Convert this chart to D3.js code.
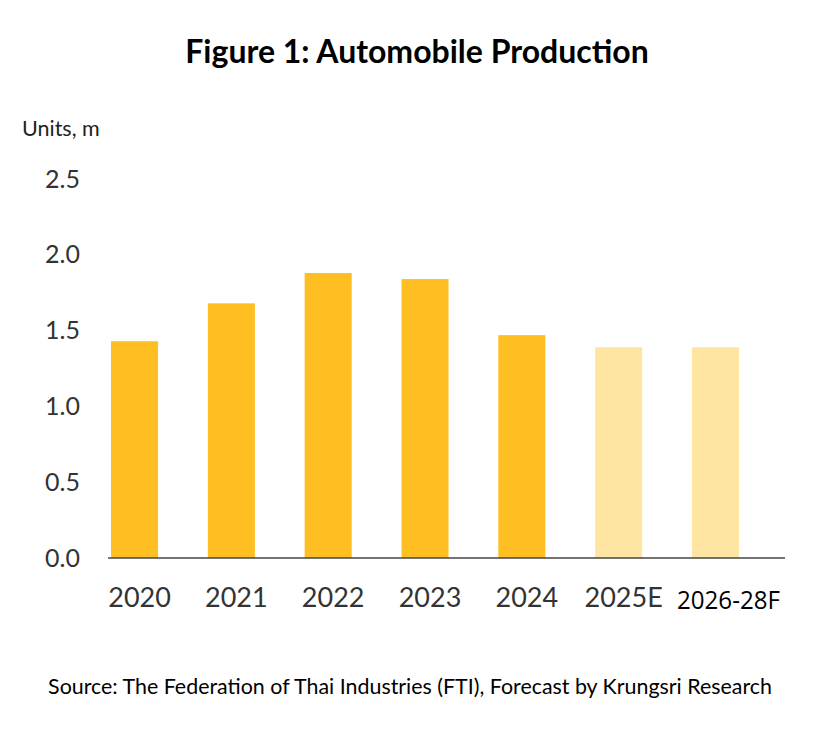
<!DOCTYPE html>
<html>
<head>
<meta charset="utf-8">
<script src="https://cdn.jsdelivr.net/npm/d3@7"></script>
<style>
  body { margin: 0; background: #fff; }
  text { font-family: Lato, "Open Sans", sans-serif; }
</style>
</head>
<body>
<div id="chart"></div>
<script>
// data
var years = ["2020", "2021", "2022", "2023", "2024", "2025E", "2026-28F"];
var production = [1.43, 1.68, 1.88, 1.84, 1.47, 1.39, 1.39];
var forecast = [false, false, false, false, false, true, true];
var yTicks = [0, 0.5, 1.0, 1.5, 2.0, 2.5];

var width = 840,
    height = 753,
    margin = {top: 179, right: 55, bottom: 195, left: 108};

var svg = d3.select("#chart")
   .append("svg")
   .attr("width", width)
   .attr("height", height);

var g = svg.append("g")
   .attr("transform", `translate(${margin.left},${margin.top})`);

var innerW = width - margin.left - margin.right,
    innerH = height - margin.top - margin.bottom;

// bars don't fill the full axis line in the original, last one sits well left of the end
var xScale = d3.scaleBand().domain(years).range([3, innerW - 46]).paddingInner(0.514).paddingOuter(0);
var yScale = d3.scaleLinear().domain([0, 2.5]).range([innerH, 0]);

// title
svg.append("text")
   .attr("x", 417)
   .attr("y", 63)
   .attr("text-anchor", "middle")
   .style("font-size", "32px")
   .style("font-weight", "bold")
   .style("fill", "#000")
   .text("Figure 1: Automobile Production");

svg.append("text")
   .attr("x", 22)
   .attr("y", 136)
   .style("font-size", "21.5px")
   .style("fill", "#222")
   .text("Units, m");

// bars
g.selectAll(".bar")
  .data(years)
  .enter().append("rect")
  .attr("class", "bar")
  .attr("x", d => xScale(d))
  .attr("y", (d, i) => yScale(production[i]))
  .attr("width", xScale.bandwidth())
  .attr("height", (d, i) => innerH - yScale(production[i]))
  .style("fill", (d, i) => forecast[i] ? "#FFE5A2" : "#FFBF22");

// y axis (labels only)
var yAxis = d3.axisLeft(yScale).tickValues(yTicks).tickFormat(d3.format(".1f")).tickSize(0).tickPadding(28);
var ya = g.append("g").attr("class", "y axis").call(yAxis);
ya.select(".domain").remove();
ya.selectAll("text").style("font-size", "25px").style("fill", "#333").style("font-family", "Lato, 'Open Sans', sans-serif");

// x axis
var xAxis = d3.axisBottom(xScale).tickSize(0).tickPadding(30);
var xa = g.append("g")
   .attr("class", "x axis")
   .attr("transform", `translate(0,${innerH})`)
   .call(xAxis);
xa.select(".domain").remove();
xa.append("line")
  .attr("x1", 0)
  .attr("x2", innerW)
  .attr("stroke", "#444")
  .attr("stroke-width", 1.5);
xa.selectAll(".tick text")
  .attr("dx", 5)
  .style("font-size", "27px")
  .style("font-family", "Lato, 'Open Sans', sans-serif")
  .style("fill", "#333");
// last label is a different, narrower font in the source
xa.selectAll(".tick text").filter((d, i) => i == 6)
  .attr("dx", 13)
  .attr("dy", "0.8em")
  .attr("textLength", 103)
  .attr("lengthAdjust", "spacingAndGlyphs")
  .style("font-family", "'Open Sans', sans-serif")
  .style("font-size", "26px")
  .style("fill", "#000");

// source
svg.append("text")
   .attr("x", 410)
   .attr("y", 694)
   .attr("text-anchor", "middle")
   .style("font-size", "21.4px")
   .style("fill", "#000")
   .text("Source: The Federation of Thai Industries (FTI), Forecast by Krungsri Research");
</script>
</body>
</html>
